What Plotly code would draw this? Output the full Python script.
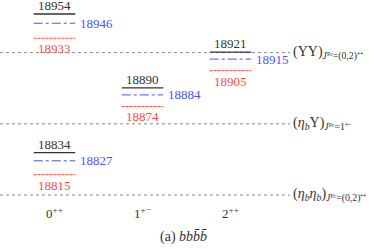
import plotly.graph_objects as go

categories = ["0<sup>++</sup>", "1<sup>+−</sup>", "2<sup>++</sup>"]
level_category = [0, 0, 1, 2]
black_vals = [18954, 18834, 18890, 18921]
blue_vals = [18946, 18827, 18884, 18915]
red_vals = [18933, 18815, 18874, 18905]
thresholds = [18920.6, 18859.0, 18797.4]
threshold_labels = [
    "(ΥΥ)<sub><i>J</i>ᴾᶜ=(0,2)⁺⁺</sub>",
    "(<i>η</i><sub><i>b</i></sub>Υ)<sub><i>J</i>ᴾᶜ=1⁺⁻</sub>",
    "(<i>η</i><sub><i>b</i></sub><i>η</i><sub><i>b</i></sub>)<sub><i>J</i>ᴾᶜ=(0,2)⁺⁺</sub>",
]
title_text = "(a) <i>bbb̄b̄</i>"

FONT = "Liberation Serif"
BLACK = "#333333"
BLUE = "#4f4fff"
RED = "#ff4a4a"
HW = 0.236
XMIN, XMAX = -0.619, 3.733
YMIN, YMAX = 18750.7, 18966.1
XLINE_END = 2.676

fig = go.Figure()

for t in thresholds:
    fig.add_trace(go.Scatter(x=[XMIN, XLINE_END], y=[t, t], mode="lines",
                             line=dict(color="#888888", width=1, dash="dot"),
                             hoverinfo="skip", showlegend=False))

for k, i in enumerate(level_category):
    fig.add_trace(go.Scatter(x=[i - HW, i + HW], y=[black_vals[k]] * 2, mode="lines",
                             line=dict(color=BLACK, width=1.3), showlegend=False))
    fig.add_trace(go.Scatter(x=[i - HW, i + HW], y=[blue_vals[k]] * 2, mode="lines",
                             line=dict(color=BLUE, width=1, dash="dashdot"), showlegend=False))
    fig.add_trace(go.Scatter(x=[i - HW, i + HW], y=[red_vals[k]] * 2, mode="lines",
                             line=dict(color=RED, width=1, dash="3px,1px"), showlegend=False))
    fig.add_annotation(x=i, y=black_vals[k], text=str(black_vals[k]), showarrow=False,
                       yanchor="bottom", yshift=-1, font=dict(family=FONT, size=13, color=BLACK))
    fig.add_annotation(x=i + HW, y=blue_vals[k], text=str(blue_vals[k]), showarrow=False,
                       xanchor="left", xshift=3, yanchor="middle",
                       font=dict(family=FONT, size=13, color=BLUE))
    fig.add_annotation(x=i, y=red_vals[k], text=str(red_vals[k]), showarrow=False,
                       yanchor="top", yshift=-1, font=dict(family=FONT, size=13, color=RED))

for i, cat in enumerate(categories):
    fig.add_annotation(x=i, y=YMIN, text=cat, showarrow=False,
                       yanchor="middle", yshift=36, font=dict(family=FONT, size=13, color=BLACK))

for t, lab in zip(thresholds, threshold_labels):
    fig.add_annotation(x=XLINE_END, y=t, text=lab, showarrow=False, xanchor="left",
                       xshift=1, yanchor="middle", font=dict(family=FONT, size=14, color=BLACK))

fig.add_annotation(x=0.478, xref="paper", y=0.049, yref="paper", yanchor="middle",
                   text=title_text, showarrow=False,
                   font=dict(family=FONT, size=14, color=BLACK))

fig.update_layout(
    width=383, height=249, margin=dict(l=0, r=0, t=0, b=0),
    paper_bgcolor="white", plot_bgcolor="white",
    xaxis=dict(range=[XMIN, XMAX], visible=False),
    yaxis=dict(range=[YMIN, YMAX], visible=False),
)
fig.write_html("out.html", config={"displayModeBar": False},
               post_script="document.body.style.margin='0';")
